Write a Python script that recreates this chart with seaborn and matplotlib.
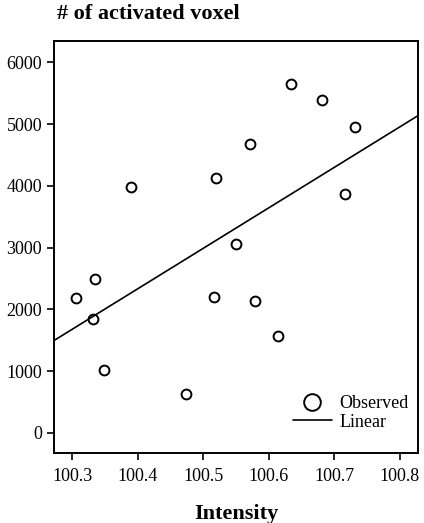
import matplotlib
matplotlib.use("Agg")
import matplotlib.pyplot as plt
from matplotlib.lines import Line2D
import seaborn as sns
import pandas as pd

intensity = [100.389, 100.519, 100.571, 100.634, 100.681, 100.732, 100.716, 100.549,
             100.306, 100.335, 100.331, 100.349, 100.474, 100.516, 100.579, 100.614]
voxels = [3980, 4121, 4676, 5647, 5388, 4951, 3862, 3063,
          2189, 2492, 1845, 1024, 626, 2206, 2136, 1565]
x_ticks = [100.3, 100.4, 100.5, 100.6, 100.7, 100.8]
y_ticks = [0, 1000, 2000, 3000, 4000, 5000, 6000]

df = pd.DataFrame({"Intensity": intensity, "voxels": voxels})

sns.set_theme(style="ticks")
plt.rcParams["font.family"] = ["Liberation Serif", "DejaVu Serif"]
plt.rcParams["text.color"] = "black"
plt.rcParams["axes.labelcolor"] = "black"

fig = plt.figure(figsize=(4.24, 5.23), dpi=100)
ax = fig.add_axes([0.1274, 0.1338, 0.8584, 0.7878])
ax.set_xlim(100.272, 100.8275)
ax.set_ylim(-324, 6343)

sns.regplot(data=df, x="Intensity", y="voxels", ax=ax, ci=None, truncate=False,
            scatter_kws=dict(s=50, facecolors="white", edgecolors="black",
                             linewidths=1.4, alpha=1),
            line_kws=dict(color="black", lw=1.2))

ax.set_xlim(100.272, 100.8275)
ax.set_ylim(-324, 6343)
ax.set_xticks(x_ticks)
ax.set_xticklabels([f"{v:.1f}" for v in x_ticks])
ax.set_yticks(y_ticks)
ax.set_yticklabels([str(v) for v in y_ticks])
ax.tick_params(axis="both", labelsize=13, length=5, width=1.2, color="black",
               labelcolor="black", direction="out")
ax.tick_params(axis="x", pad=6)
for s in ax.spines.values():
    s.set_visible(True)
    s.set_color("black")
    s.set_linewidth(1.4)

ax.set_xlabel("Intensity", fontsize=16, fontweight="bold", labelpad=13.5, color="black")
ax.set_ylabel("")
fig.text(57 / 424, 1 - 14 / 523, "# of activated voxel", fontsize=16, fontweight="bold",
         ha="left", va="center", color="black")

handles = [Line2D([], [], marker="o", linestyle="none", markersize=12,
                  markerfacecolor="white", markeredgecolor="black", markeredgewidth=1.4),
           Line2D([], [], color="black", lw=1.2)]
ax.legend(handles, ["Observed", "Linear"], loc="lower right", frameon=False,
          fontsize=13, handlelength=2.2, handletextpad=0.4, labelspacing=0.1,
          borderaxespad=0.5, labelcolor="black",
          bbox_to_anchor=(1 + 7 / 364, 6 / 412))

fig.savefig("out.png", dpi=100, facecolor="white")
